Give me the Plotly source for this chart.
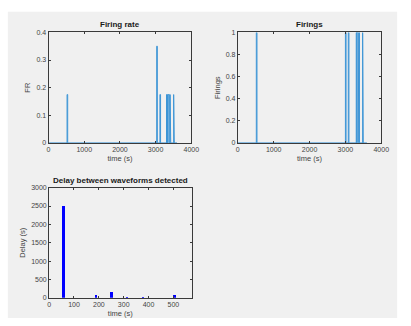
import plotly.graph_objects as go

# Firing rate peaks (time in s, rate)
fr_times = [528, 3040, 3130, 3315, 3335, 3355, 3375, 3395, 3415, 3515]
fr_values = [0.175, 0.35, 0.175, 0.175, 0.175, 0.175, 0.175, 0.175, 0.175, 0.175]
rec_end = 3600  # end of recording (s)

# Individual firing events (time in s)
firing_times = [525, 3010, 3090, 3312, 3330, 3348, 3366, 3384, 3490]

# Delay between detected waveforms
delay_t = [60, 190, 252, 315, 380, 505]
delay_s = [2500, 88, 180, 30, 8, 88]

W, H = 411, 326
LINE_BLUE = "#3d95d6"
AX_COL = "#3a3a3a"
TICK_COL = "#444444"
FONT = "Liberation Sans, Arial, sans-serif"
half = 9  # half-width of a rate bin (s)


def spike_trace(times, values):
    xs, ys = [0], [0]
    for t, v in zip(times, values):
        xs += [t - half, t - half, t + half, t + half]
        ys += [0, v, v, 0]
    xs.append(rec_end)
    ys.append(0)
    return xs, ys


fr_x, fr_y = spike_trace(fr_times, fr_values)
fi_x, fi_y = spike_trace(firing_times, [1] * len(firing_times))

fig = go.Figure()
fig.add_trace(go.Scatter(x=fr_x, y=fr_y, mode="lines", xaxis="x", yaxis="y",
                         line=dict(color=LINE_BLUE, width=1)))
fig.add_trace(go.Scatter(x=fi_x, y=fi_y, mode="lines", xaxis="x2", yaxis="y2",
                         line=dict(color=LINE_BLUE, width=1)))
fig.add_trace(go.Bar(x=delay_t, y=delay_s, xaxis="x3", yaxis="y3", width=8,
                     marker=dict(color="#0000ff", line=dict(width=0))))


def px(a, b):
    return [a / W, b / W]


def py(top, bottom):
    return [1 - bottom / H, 1 - top / H]


axis_common = dict(
    showline=True, mirror="ticks", linecolor=AX_COL, linewidth=1,
    ticks="inside", ticklen=2, tickcolor=AX_COL, tickwidth=0.8,
    showgrid=False, zeroline=False, fixedrange=True,
    tickfont=dict(size=7, color=TICK_COL, family=FONT),
)
title_font = dict(size=7.5, color=TICK_COL, family=FONT)

fig.update_layout(
    width=W, height=H, margin=dict(l=0, r=0, t=0, b=0),
    paper_bgcolor="white", plot_bgcolor="white", showlegend=False,
    font=dict(family=FONT, color=AX_COL),
    bargap=0,
    xaxis=dict(domain=px(47.7, 194), range=[0, 4000], tickvals=[0, 1000, 2000, 3000, 4000],
               anchor="y", title=dict(text="time (s)", font=title_font, standoff=3),
               **axis_common),
    yaxis=dict(domain=py(29, 142), range=[0, 0.4], tickvals=[0, 0.1, 0.2, 0.3, 0.4],
               anchor="x", title=dict(text="FR", font=title_font, standoff=4),
               **axis_common),
    xaxis2=dict(domain=px(241.7, 388.7), range=[0, 4000], tickvals=[0, 1000, 2000, 3000, 4000],
                anchor="y2", title=dict(text="time (s)", font=title_font, standoff=3),
                **axis_common),
    yaxis2=dict(domain=py(29, 142), range=[0, 1], tickvals=[0, 0.2, 0.4, 0.6, 0.8, 1],
                anchor="x2", title=dict(text="Firings", font=title_font, standoff=4),
                **axis_common),
    xaxis3=dict(domain=px(48.3, 194.3), range=[0, 573], tickvals=[0, 100, 200, 300, 400, 500],
                anchor="y3", title=dict(text="time (s)", font=title_font, standoff=3),
                **axis_common),
    yaxis3=dict(domain=py(187.7, 300.3), range=[0, 3000], tickvals=[0, 500, 1000, 1500, 2000, 2500, 3000],
                anchor="x3", title=dict(text="Delay (s)", font=title_font, standoff=4),
                **axis_common),
    shapes=[dict(type="rect", xref="paper", yref="paper", layer="below",
                 x0=6 / W, x1=405 / W, y0=1 - 321 / H, y1=1 - 8 / H,
                 fillcolor="#f0f0f0", line=dict(width=0))],
)

titles = [("Firing rate", (47.7 + 194) / 2, 21),
          ("Firings", (241.7 + 388.7) / 2, 21),
          ("Delay between waveforms detected", (48.3 + 194.3) / 2, 180)]
for text, cx, cy in titles:
    fig.add_annotation(text="<b>%s</b>" % text, xref="paper", yref="paper",
                       x=cx / W, y=1 - cy / H, showarrow=False,
                       xanchor="center", yanchor="middle",
                       font=dict(size=8, color="#1a1a1a", family=FONT))

fig.write_html("out.html")
